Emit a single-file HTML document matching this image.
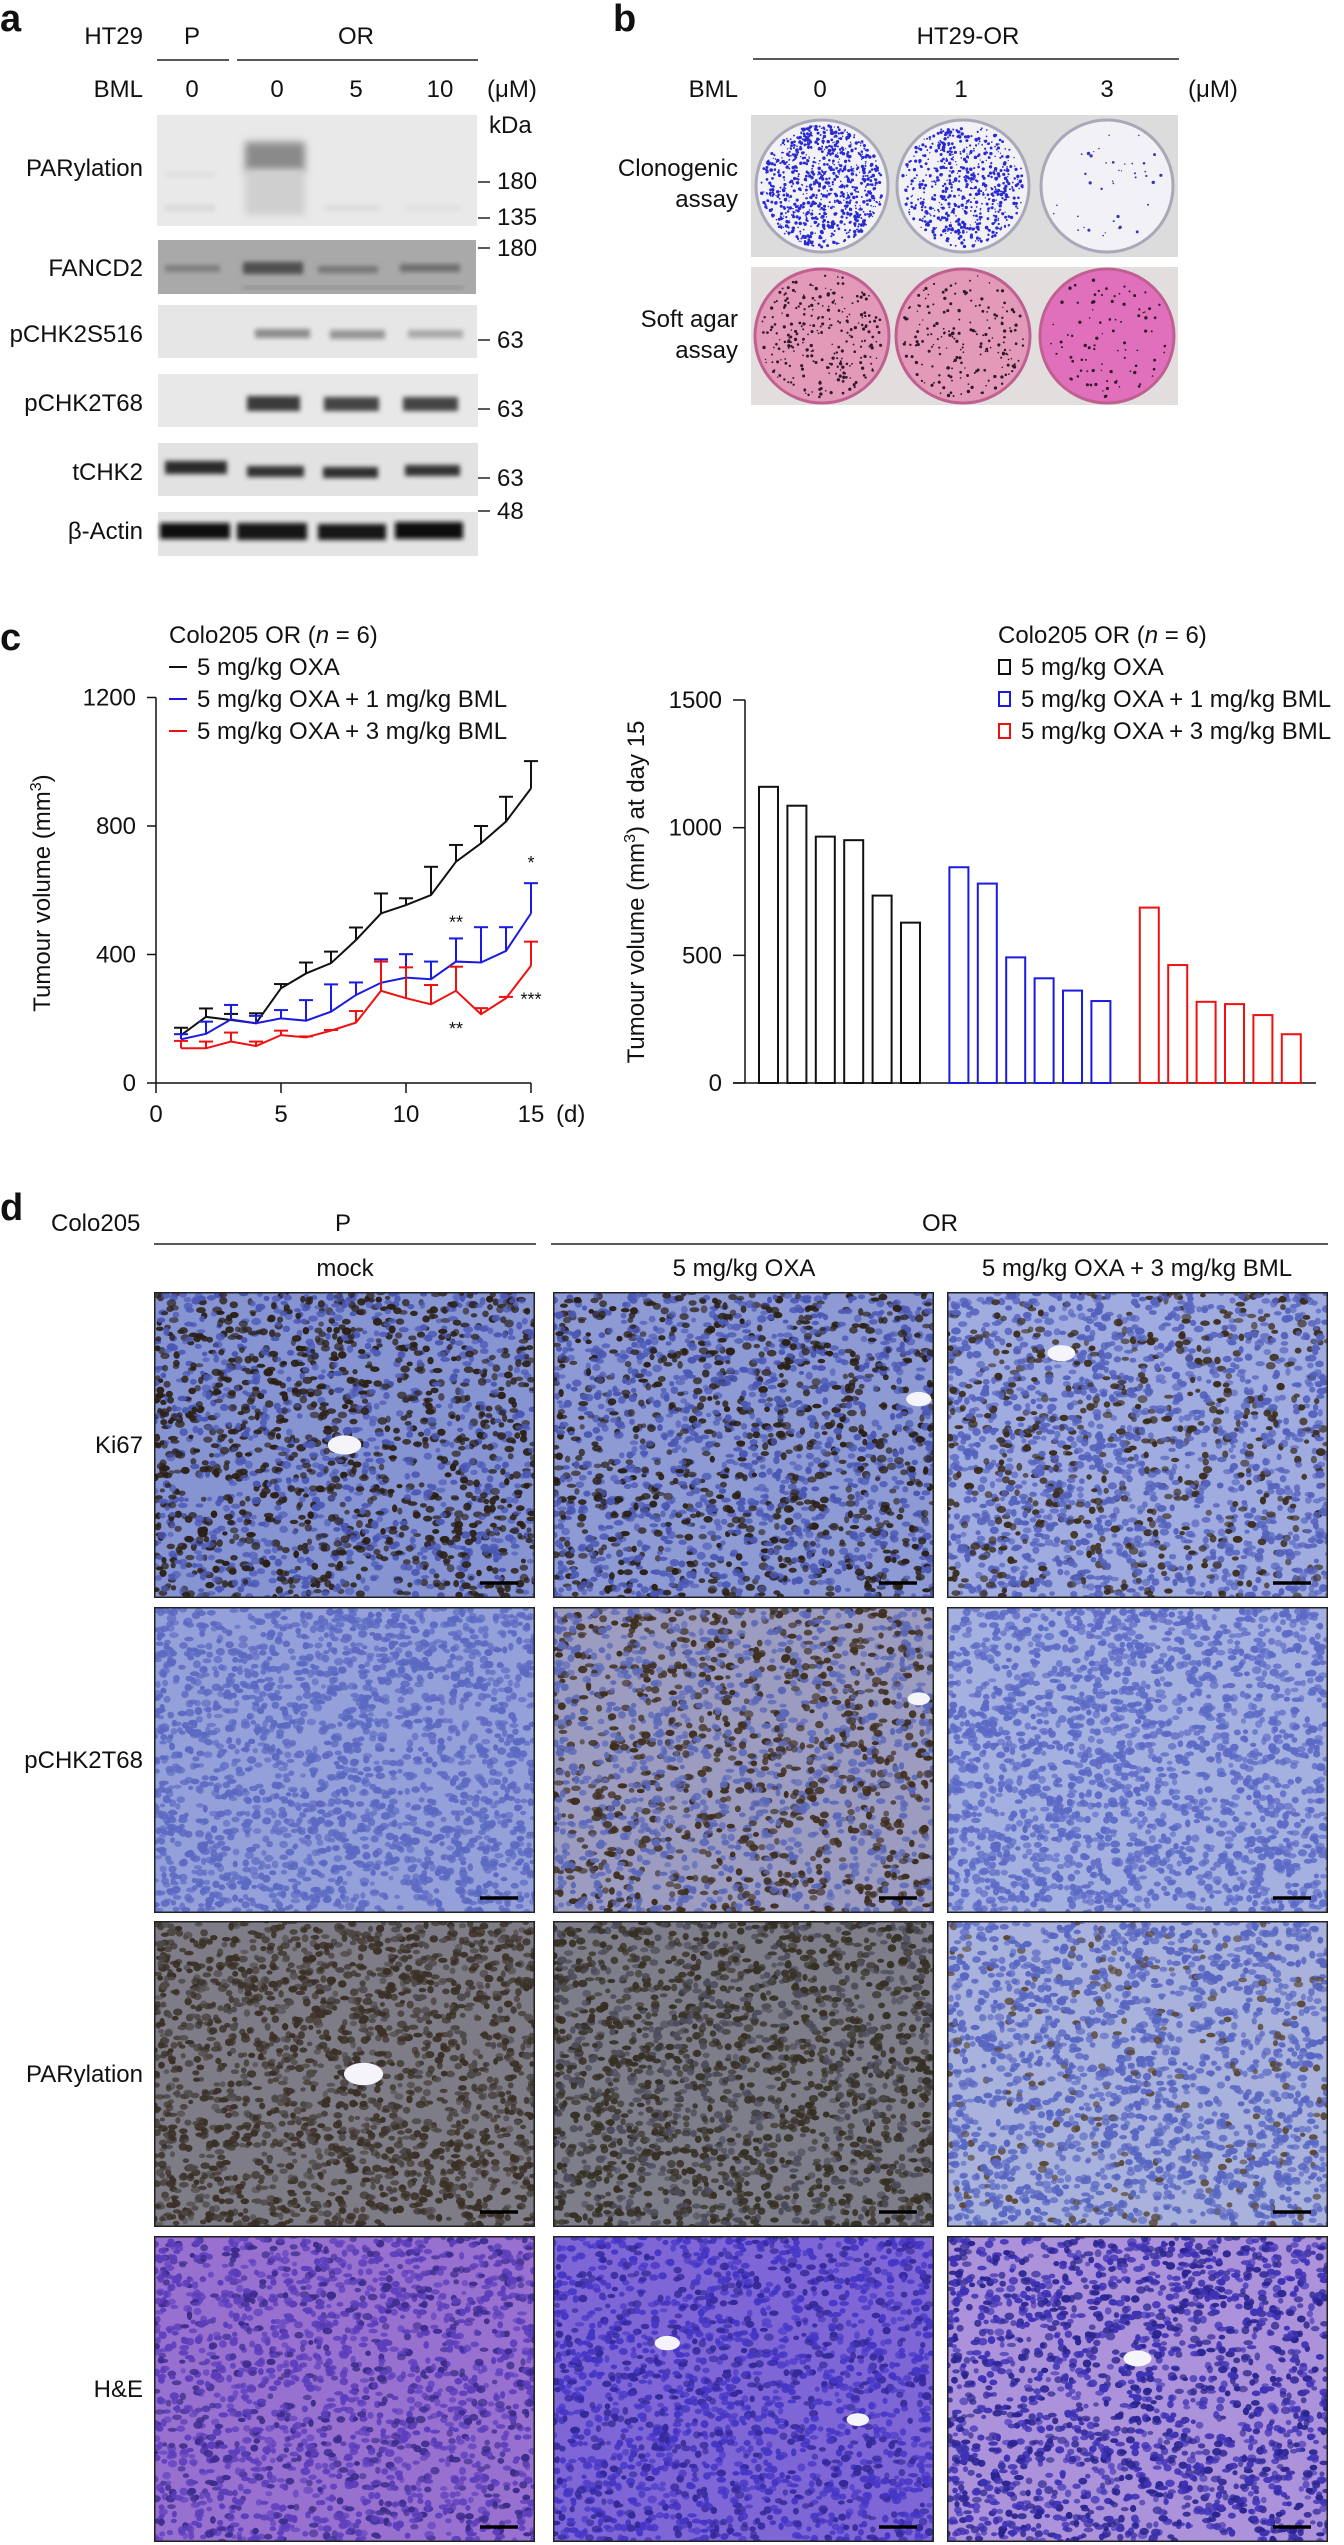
<!DOCTYPE html>
<html><head><meta charset="utf-8">
<style>
html,body{margin:0;padding:0;background:#fff;}
svg{display:block;font-family:"Liberation Sans",Arial,sans-serif;}
</style></head>
<body>
<svg id="fig" xmlns="http://www.w3.org/2000/svg" width="1344" height="2545" viewBox="0 0 1344 2545">
<defs>
<filter id="blur2" x="-20%" y="-50%" width="140%" height="200%"><feGaussianBlur stdDeviation="2.5"/></filter>
<filter id="blur4" x="-20%" y="-80%" width="140%" height="260%"><feGaussianBlur stdDeviation="4"/></filter>
</defs>

<!-- ===== Panel a ===== -->
<g font-size="24" fill="#111">
<text x="0" y="31" font-size="38" font-weight="bold">a</text>
<text x="143" y="44" text-anchor="end">HT29</text>
<text x="192" y="44" text-anchor="middle">P</text>
<text x="356" y="44" text-anchor="middle">OR</text>
<line x1="157" y1="60" x2="229" y2="60" stroke="#222" stroke-width="1.5"/>
<line x1="237" y1="60" x2="478" y2="60" stroke="#222" stroke-width="1.5"/>
<text x="143" y="97" text-anchor="end">BML</text>
<text x="192" y="97" text-anchor="middle">0</text>
<text x="277" y="97" text-anchor="middle">0</text>
<text x="356" y="97" text-anchor="middle">5</text>
<text x="440" y="97" text-anchor="middle">10</text>
<text x="487" y="97">(μM)</text>
<text x="489" y="133">kDa</text>

<text x="143" y="176" text-anchor="end">PARylation</text>
<text x="143" y="276" text-anchor="end">FANCD2</text>
<text x="143" y="342" text-anchor="end">pCHK2S516</text>
<text x="143" y="411" text-anchor="end">pCHK2T68</text>
<text x="143" y="480" text-anchor="end">tCHK2</text>
<text x="143" y="539" text-anchor="end">β-Actin</text>

<rect x="157" y="115" width="320" height="111" fill="#e9e9e9"/>
<g>
<rect x="245" y="142" width="60" height="30" fill="#8a8a8a" filter="url(#blur4)"/>
<rect x="245" y="170" width="60" height="45" fill="#cfcfcf" filter="url(#blur4)"/>
<rect x="165" y="172" width="50" height="5" fill="#dedede" filter="url(#blur2)"/>
<rect x="165" y="205" width="50" height="6" fill="#d8d8d8" filter="url(#blur2)"/>
<rect x="325" y="205" width="55" height="6" fill="#dcdcdc" filter="url(#blur2)"/>
<rect x="405" y="205" width="55" height="6" fill="#e0e0e0" filter="url(#blur2)"/>
</g>
<rect x="158" y="240" width="318" height="54" fill="#a9a9a9"/>
<g>
<rect x="165" y="265" width="55" height="7" fill="#7e7e7e" filter="url(#blur2)"/>
<rect x="243" y="262" width="60" height="12" fill="#505050" filter="url(#blur2)"/>
<rect x="318" y="266" width="60" height="7" fill="#747474" filter="url(#blur2)"/>
<rect x="400" y="264" width="60" height="8" fill="#6e6e6e" filter="url(#blur2)"/>
<rect x="243" y="286" width="220" height="3" fill="#8a8a8a" filter="url(#blur2)"/>
</g>
<rect x="158" y="305" width="319" height="53" fill="#e6e6e6"/>
<g>
<rect x="255" y="329" width="55" height="9" fill="#8c8c8c" filter="url(#blur2)"/>
<rect x="330" y="330" width="55" height="9" fill="#959595" filter="url(#blur2)"/>
<rect x="408" y="330" width="55" height="8" fill="#a8a8a8" filter="url(#blur2)"/>
</g>
<rect x="158" y="374" width="320" height="53" fill="#e8e8e8"/>
<g>
<rect x="247" y="396" width="53" height="15" fill="#3a3a3a" filter="url(#blur2)"/>
<rect x="324" y="397" width="55" height="14" fill="#444" filter="url(#blur2)"/>
<rect x="403" y="397" width="55" height="14" fill="#444" filter="url(#blur2)"/>
</g>
<rect x="158" y="443" width="320" height="53" fill="#e2e2e2"/>
<g>
<rect x="165" y="461" width="62" height="13" fill="#2a2a2a" filter="url(#blur2)"/>
<rect x="247" y="466" width="57" height="11" fill="#333" filter="url(#blur2)"/>
<rect x="323" y="467" width="55" height="11" fill="#2e2e2e" filter="url(#blur2)"/>
<rect x="405" y="465" width="55" height="11" fill="#333" filter="url(#blur2)"/>
</g>
<rect x="158" y="512" width="320" height="44" fill="#e4e4e4"/>
<g>
<rect x="160" y="523" width="70" height="16" fill="#111" filter="url(#blur2)"/>
<rect x="237" y="523" width="70" height="17" fill="#151515" filter="url(#blur2)"/>
<rect x="318" y="524" width="68" height="16" fill="#151515" filter="url(#blur2)"/>
<rect x="395" y="522" width="68" height="17" fill="#111" filter="url(#blur2)"/>
</g>

<g>
<line x1="478" y1="182" x2="490" y2="182" stroke="#222" stroke-width="1.5"/><text x="497" y="189">180</text>
<line x1="478" y1="218" x2="490" y2="218" stroke="#222" stroke-width="1.5"/><text x="497" y="225">135</text>
<line x1="478" y1="248" x2="490" y2="248" stroke="#222" stroke-width="1.5"/><text x="497" y="256">180</text>
<line x1="478" y1="340" x2="490" y2="340" stroke="#222" stroke-width="1.5"/><text x="497" y="348">63</text>
<line x1="478" y1="409" x2="490" y2="409" stroke="#222" stroke-width="1.5"/><text x="497" y="417">63</text>
<line x1="478" y1="478" x2="490" y2="478" stroke="#222" stroke-width="1.5"/><text x="497" y="486">63</text>
<line x1="478" y1="511" x2="490" y2="511" stroke="#222" stroke-width="1.5"/><text x="497" y="519">48</text>
</g>
</g>

<!-- ===== Panel b ===== -->
<g font-size="24" fill="#111">
<text x="613" y="31" font-size="38" font-weight="bold">b</text>
<text x="968" y="44" text-anchor="middle">HT29-OR</text>
<line x1="753" y1="59" x2="1179" y2="59" stroke="#222" stroke-width="1.5"/>
<text x="738" y="97" text-anchor="end">BML</text>
<text x="820" y="97" text-anchor="middle">0</text>
<text x="961" y="97" text-anchor="middle">1</text>
<text x="1107" y="97" text-anchor="middle">3</text>
<text x="1188" y="97">(μM)</text>
<text x="738" y="176" text-anchor="end">Clonogenic</text>
<text x="738" y="207" text-anchor="end">assay</text>
<text x="738" y="327" text-anchor="end">Soft agar</text>
<text x="738" y="358" text-anchor="end">assay</text>
<rect x="751" y="115" width="427" height="142" fill="#dcdcdc"/>
<rect x="751" y="267" width="427" height="138" fill="#e2dede"/>
<g id="dishes"></g>
</g>

<!-- ===== Panel c ===== -->
<g font-size="24" fill="#111">
<text x="0" y="650" font-size="38" font-weight="bold">c</text>
<g id="linechart"></g>
<g id="barchart"></g>
</g>

<!-- ===== Panel d ===== -->
<g font-size="24" fill="#111">
<text x="0" y="1220" font-size="38" font-weight="bold">d</text>
<text x="51" y="1231">Colo205</text>
<text x="343" y="1231" text-anchor="middle">P</text>
<text x="940" y="1231" text-anchor="middle">OR</text>
<line x1="154" y1="1244" x2="536" y2="1244" stroke="#222" stroke-width="1.5"/>
<line x1="551" y1="1244" x2="1328" y2="1244" stroke="#222" stroke-width="1.5"/>
<text x="345" y="1276" text-anchor="middle">mock</text>
<text x="744" y="1276" text-anchor="middle">5 mg/kg OXA</text>
<text x="1137" y="1276" text-anchor="middle">5 mg/kg OXA + 3 mg/kg BML</text>
<text x="143" y="1453" text-anchor="end">Ki67</text>
<text x="143" y="1768" text-anchor="end">pCHK2T68</text>
<text x="143" y="2082" text-anchor="end">PARylation</text>
<text x="143" y="2397" text-anchor="end">H&amp;E</text>
<g id="histo"></g>
</g>
</svg>

<script>
// ---------- chart data (panel c, left) ----------
const days = [1,2,3,4,5,6,7,8,9,10,11,12,13,14,15];
const oxaMean = [149,206,196,186,295,341,373,445,528,554,585,689,746,814,917];
const oxaErr = [23,26,19,31,13,34,36,39,62,21,88,52,54,77,85];
const bml1Mean = [136,153,198,186,201,194,222,274,312,328,323,378,375,411,528];
const bml1Err = [16,38,45,23,26,64,85,39,73,73,55,72,110,74,94];
const bml3Mean = [108,108,129,115,149,142,163,188,287,264,245,287,214,264,365];
const bml3Err = [23,21,28,14,14,3,2,36,91,96,60,75,19,4,75];
const lineYTicks = [0,400,800,1200];
const lineXTicks = [0,5,10,15];
// ---------- chart data (panel c, right) ----------
const groups = ["5 mg/kg OXA","5 mg/kg OXA + 1 mg/kg BML","5 mg/kg OXA + 3 mg/kg BML"];
const barOxa = [1160,1086,965,951,734,628];
const barBml1 = [845,781,492,410,362,321];
const barBml3 = [687,462,318,309,266,191];
const barYTicks = [0,500,1000,1500];

const NS = "http://www.w3.org/2000/svg";
function mk(tag, attrs, parent){
  const e = document.createElementNS(NS, tag);
  for (const k in attrs) e.setAttribute(k, attrs[k]);
  parent.appendChild(e);
  return e;
}

// ---------- line chart ----------
(function(){
  const g = document.getElementById('linechart');
  const xS = d => 156 + d*25;
  const yS = v => 1083 - v*128.5/400;
  let e;
  e = mk('line',{x1:156,y1:yS(1200),x2:156,y2:1083,stroke:'#111','stroke-width':1.5},g);
  
  
  e = mk('line',{x1:156,y1:1083,x2:xS(15),y2:1083,stroke:'#111','stroke-width':1.5},g);
  
  
  lineYTicks.forEach(t=>{
    e = mk('line',{x1:147,y1:yS(t),x2:156,y2:yS(t),stroke:'#111','stroke-width':1.5},g);
    
    
    e = mk('text',{x:136,y:yS(t)+8,'text-anchor':'end'},g);
    e.textContent = t;
    
    
  });
  lineXTicks.forEach(t=>{
    e = mk('line',{x1:xS(t),y1:1083,x2:xS(t),y2:1093,stroke:'#111','stroke-width':1.5},g);
    
    
    e = mk('text',{x:xS(t),y:1122,'text-anchor':'middle'},g);
    e.textContent = t;
    
    
  });
  e = mk('text',{x:556,y:1122},g);
  e.textContent = '(d)';
  
  
  e = mk('text',{x:0,y:0,'text-anchor':'middle',transform:'translate(50,893) rotate(-90)'},g);
  e.innerHTML = 'Tumour volume (mm<tspan dy="-9" font-size="16">3</tspan><tspan dy="9">)</tspan>';
  
  

  const series = [[oxaMean,oxaErr,'#111','oxa'],[bml1Mean,bml1Err,'#1a1ae0','bml1'],[bml3Mean,bml3Err,'#f01010','bml3']];
  series.forEach(s=>{
    const [m,er,col,nm]=s;
    days.forEach((d,i)=>{
      const x=xS(d), y0=yS(m[i]), y1=yS(m[i]+er[i]);
      e = mk('line',{x1:x,y1:y0,x2:x,y2:y1,stroke:col,'stroke-width':2},g);
      
      
      e = mk('line',{x1:x-7,y1:y1,x2:x+7,y2:y1,stroke:col,'stroke-width':2},g);
      
      
    });
    e = mk('polyline',{points:days.map((d,i)=>xS(d)+','+yS(m[i])).join(' '),fill:'none',stroke:col,'stroke-width':2},g);
    
    
  });
  const sig=[[12,bml1Mean[11]+bml1Err[11],'**',-10],[15,bml1Mean[14]+bml1Err[14],'*',-14],[12,bml3Mean[11],'**',44],[15,bml3Mean[14],'***',40]];
  sig.forEach(s=>{
    e = mk('text',{x:xS(s[0]),y:yS(s[1])+s[3],'text-anchor':'middle','font-size':18},g);
    e.textContent = s[2];
    
    
  });
  e = mk('text',{x:169,y:643},g);
  e.innerHTML = 'Colo205 OR (<tspan font-style="italic">n</tspan> = 6)';
  
  
  [['#111',groups[0]],['#1a1ae0',groups[1]],['#f01010',groups[2]]].forEach((l,i)=>{
    const y=667+i*32;
    e = mk('line',{x1:169,y1:y,x2:187,y2:y,stroke:l[0],'stroke-width':2},g);
    
    
    e = mk('text',{x:197,y:y+8},g);
    e.textContent = l[1];
    
    
  });
})();

// ---------- bar chart ----------
(function(){
  const g = document.getElementById('barchart');
  const yS = v => 1083 - v*383/1500;
  const xS = (gi,i) => 759 + gi*190.4 + i*28.4;
  let e;
  e = mk('line',{x1:745,y1:yS(1500),x2:745,y2:1083,stroke:'#111','stroke-width':1.5},g);
  
  
  e = mk('line',{x1:733,y1:1083,x2:1316,y2:1083,stroke:'#111','stroke-width':1.5},g);
  
  
  barYTicks.forEach(t=>{
    e = mk('line',{x1:733,y1:yS(t),x2:745,y2:yS(t),stroke:'#111','stroke-width':1.5},g);
    
    
    e = mk('text',{x:722,y:yS(t)+8,'text-anchor':'end'},g);
    e.textContent = t;
    
    
  });
  e = mk('text',{x:0,y:0,'text-anchor':'middle',transform:'translate(644,892) rotate(-90)'},g);
  e.innerHTML = 'Tumour volume (mm<tspan dy="-9" font-size="16">3</tspan><tspan dy="9">) at day 15</tspan>';
  
  
  const cols=['#111','#1a1ae0','#f01010'];
  [barOxa,barBml1,barBml3].forEach((arr,gi)=>{
    arr.forEach((v,i)=>{
      e = mk('rect',{x:xS(gi,i),y:yS(v),width:19,height:1083-yS(v),fill:'none',stroke:cols[gi],'stroke-width':2},g);
      
      
    });
  });
  e = mk('text',{x:998,y:643},g);
  e.innerHTML = 'Colo205 OR (<tspan font-style="italic">n</tspan> = 6)';
  
  
  groups.forEach((name,i)=>{
    const y=667+i*32;
    e = mk('rect',{x:999,y:y-7,width:11,height:14,fill:'none',stroke:cols[i],'stroke-width':2},g);
    
    
    e = mk('text',{x:1021,y:y+8},g);
    e.textContent = name;
    
    
  });
})();

// ---------- decorative textures (seeded) ----------
let seed = 12345;
function rnd(){ seed = (seed*1103515245 + 12345) % 2147483648; return seed/2147483648; }

(function(){
  const g = document.getElementById('dishes');
  let e;
  const cx=[822,963,1107];
  const clonoDots=[900,650,40];
  const agarDots=[260,200,90];
  cx.forEach((x,i)=>{
    e = mk('ellipse',{cx:x,cy:186,rx:66,ry:66,fill:'#f2f2f6',stroke:'#a8a8b8','stroke-width':3},g);
    
    
    for(let k=0;k<clonoDots[i];k++){
      const a=rnd()*6.283, r=Math.sqrt(rnd())*61;
      e = mk('circle',{cx:x+r*Math.cos(a),cy:186+r*Math.sin(a),r:0.6+rnd()*1.2,fill:i==2?'#3a3ab0':'#2a2ad0'},g);
      
      
    }
    e = mk('ellipse',{cx:x,cy:336,rx:67,ry:67,fill:i==2?'#e070bc':'#e29ab8',stroke:'#c06090','stroke-width':3},g);
    
    
    for(let k=0;k<agarDots[i];k++){
      const a=rnd()*6.283, r=Math.sqrt(rnd())*62;
      e = mk('circle',{cx:x+r*Math.cos(a),cy:336+r*Math.sin(a),r:0.7+rnd()*1.0,fill:'#301828'},g);
      
      
    }
  });
})();

(function(){
  const g = document.getElementById('histo');
  const colX=[154,553,947], rowY=[1292,1607,1921,2236], W=381, H=306;
  // [bg, blue nucleus, dark nucleus, dark fraction, count, white patches]
  const cfg=[
    [['#8794d2','#4a58b4','#2a2016',0.55,2000,[[0.5,0.5,12]]],['#8e9ad4','#4a58b4','#2a2016',0.42,2000,[[0.96,0.35,9]]],['#a0ace0','#5462bc','#3a2c1c',0.28,2000,[[0.3,0.2,10]]]],
    [['#93a0da','#5b69c2','#4a3a2a',0.0,2000,[]],['#9c9cc0','#5b68b8','#3e2e1e',0.45,2000,[[0.96,0.3,8]]],['#a4b0e0','#5c6ac6','#4a3a2a',0.0,2000,[]]],
    [['#7e7c86','#4f4a4a','#3a3026',0.7,2100,[[0.55,0.5,14]]],['#7e7e8a','#4c4c5c','#363024',0.62,2100,[]],['#a8b2dc','#5866c2','#5a4838',0.12,1900,[]]],
    [['#9870d0','#5c3ebc','#3c2c8c',0.3,2000,[]],['#7e66d6','#4636c6','#34289a',0.35,2000,[[0.3,0.35,9],[0.8,0.6,8]]],['#ac92da','#3e32b6','#2a2490',0.45,2000,[[0.5,0.4,10]]]]
  ];
  let e;
  rowY.forEach((y,ri)=>{
    colX.forEach((x,ci)=>{
      const c=cfg[ri][ci];
      const cid='clip'+ri+'_'+ci;
      const cp=mk('clipPath',{id:cid},g);
      mk('rect',{x:x,y:y,width:W,height:H},cp);
      const pg=mk('g',{'clip-path':'url(#'+cid+')'},g);
      
      
      e = mk('rect',{x:x,y:y,width:W,height:H,fill:c[0]},pg);
      
      
      for(let k=0;k<c[4];k++){
        const px=x+rnd()*W, py=y+rnd()*H;
        const dark = rnd()<c[3];
        e = mk('ellipse',{cx:px.toFixed(1),cy:py.toFixed(1),rx:(2.5+rnd()*2.5).toFixed(1),ry:(2+rnd()*2).toFixed(1),fill:dark?c[2]:c[1],'fill-opacity':(0.6+rnd()*0.4).toFixed(2)},pg);
        
        
      }
      c[5].forEach(w=>{
        e = mk('ellipse',{cx:x+w[0]*W,cy:y+w[1]*H,rx:w[2]*1.4,ry:w[2]*0.8,fill:'#f4f4fa'},pg);
        
        
      });
      e = mk('rect',{x:x+0.75,y:y+0.75,width:W-1.5,height:H-1.5,fill:'none',stroke:'#222','stroke-width':1.5},g);
      
      
      e = mk('line',{x1:x+W-55,y1:y+H-15,x2:x+W-17,y2:y+H-15,stroke:'#000','stroke-width':3.5},g);
      
      
    });
  });
})();
</script>
</body></html>
